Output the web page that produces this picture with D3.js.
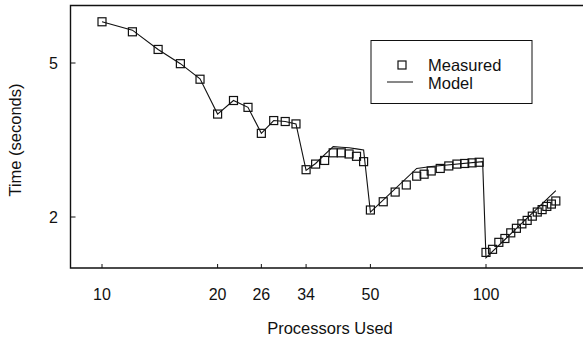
<!DOCTYPE html>
<html>
<head>
<meta charset="utf-8">
<script src="https://cdn.jsdelivr.net/npm/d3@7"></script>
<style>
  body { margin: 0; background: #fff; }
  text { font-family: "Liberation Sans", Arial, Helvetica, sans-serif; fill: #111; }
</style>
</head>
<body>
<svg id="chart" width="583" height="341"></svg>
<script>
// measured run times (seconds) by processor count
var measuredProcs = [10, 12, 14, 16, 18, 20, 22, 24, 26, 28, 30, 32,
  34, 36, 38, 40, 42, 44, 46, 48,
  50, 54, 58, 62, 66, 69, 72, 76, 80, 84, 88, 92, 96,
  100, 104, 108, 112, 116, 120, 124, 128, 132, 136, 140, 144, 148, 152];
var measuredTimes = [6.39, 6.02, 5.42, 4.98, 4.54, 3.69, 4.0, 3.84, 3.29, 3.55, 3.53, 3.48,
  2.65, 2.74, 2.80, 2.93, 2.93, 2.91, 2.87, 2.78,
  2.085, 2.19, 2.32, 2.42, 2.55, 2.58, 2.63, 2.67, 2.71, 2.74, 2.75, 2.76, 2.77,
  1.62, 1.65, 1.72, 1.76, 1.82, 1.87, 1.92, 1.96, 2.01, 2.06, 2.09, 2.13, 2.16, 2.20];

// model prediction
var modelProcs = [10, 12, 14, 16, 18, 20, 22, 24, 26, 28, 30, 32,
  34, 36, 38, 40, 42, 44, 46, 48,
  50, 66, 72, 98, 100, 152];
var modelTimes = [6.39, 6.08, 5.42, 4.98, 4.55, 3.69, 4.0, 3.84, 3.29, 3.55, 3.53, 3.48,
  2.64, 2.75, 2.90, 3.04, 3.03, 3.02, 3.00, 2.98,
  2.06, 2.67, 2.70, 2.78, 1.57, 2.34];

var xTicks = [10, 20, 26, 34, 50, 100];
var yTicks = [2, 5];

var svg = d3.select("#chart");
var plotLeft = 70.5, plotRight = 583, plotTop = 5.5, plotBottom = 268;

var x = d3.scaleLog().domain([10, 100]).range([102, 486]);
var y = d3.scaleLog().domain([2, 5]).range([217, 63]);

// frame: left, bottom, top lines (no right side)
svg.append("path")
  .attr("d", "M" + plotRight + "," + plotTop + "H" + plotLeft + "V" + plotBottom + "H" + plotRight)
  .attr("fill", "none").attr("stroke", "#111").attr("stroke-width", 1.4);

// x ticks (inward)
var xAxis = svg.append("g");
xAxis.selectAll("line").data(xTicks).enter().append("line")
  .attr("x1", function(d){ return x(d); }).attr("x2", function(d){ return x(d); })
  .attr("y1", plotBottom).attr("y2", plotBottom - 4)
  .attr("stroke", "#111").attr("stroke-width", 1);
xAxis.selectAll("text").data(xTicks).enter().append("text")
  .attr("x", function(d){ return x(d); })
  .attr("y", 300)
  .attr("text-anchor", "middle")
  .style("font-size", "16px")
  .text(function(d){ return d; });

// y ticks (inward)
var yAxis = svg.append("g");
yAxis.selectAll("line").data(yTicks).enter().append("line")
  .attr("x1", plotLeft).attr("x2", plotLeft + 5)
  .attr("y1", function(d){ return y(d); }).attr("y2", function(d){ return y(d); })
  .attr("stroke", "#111").attr("stroke-width", 1);
yAxis.selectAll("text").data(yTicks).enter().append("text")
  .attr("x", 58)
  .attr("y", function(d){ return y(d); })
  .attr("dy", "0.36em")
  .attr("text-anchor", "end")
  .style("font-size", "16px")
  .text(function(d){ return d; });

// axis titles
svg.append("text")
  .attr("x", 330).attr("y", 334)
  .attr("text-anchor", "middle")
  .style("font-size", "16.5px")
  .text("Processors Used");
svg.append("text")
  .attr("transform", "translate(21,140) rotate(-90)")
  .attr("text-anchor", "middle")
  .style("font-size", "16.5px")
  .text("Time (seconds)");

// model line
var line = d3.line()
  .x(function(d){ return x(d[0]); })
  .y(function(d){ return y(d[1]); });
svg.append("path")
  .datum(d3.zip(modelProcs, modelTimes))
  .attr("d", line)
  .attr("fill", "none").attr("stroke", "#111").attr("stroke-width", 1.1);

// measured squares
var sq = 8;
svg.append("g").selectAll("rect")
  .data(d3.zip(measuredProcs, measuredTimes))
  .enter().append("rect")
  .attr("x", function(d){ return x(d[0]) - sq / 2; })
  .attr("y", function(d){ return y(d[1]) - sq / 2; })
  .attr("width", sq).attr("height", sq)
  .attr("fill", "none").attr("stroke", "#111").attr("stroke-width", 1.2);

// legend
var lg = svg.append("g");
lg.append("rect")
  .attr("x", 371).attr("y", 40.5).attr("width", 161).attr("height", 63)
  .attr("fill", "#fff").attr("stroke", "#111").attr("stroke-width", 1);
lg.append("rect")
  .attr("x", 398).attr("y", 61).attr("width", 8).attr("height", 8)
  .attr("fill", "none").attr("stroke", "#111").attr("stroke-width", 1.2);
lg.append("line")
  .attr("x1", 387).attr("x2", 413).attr("y1", 82).attr("y2", 82)
  .attr("stroke", "#111").attr("stroke-width", 1);
lg.append("text")
  .attr("x", 428).attr("y", 65).attr("dy", "0.36em")
  .style("font-size", "16.5px")
  .text("Measured");
lg.append("text")
  .attr("x", 428).attr("y", 83).attr("dy", "0.36em")
  .style("font-size", "16.5px")
  .text("Model");
</script>
</body>
</html>
